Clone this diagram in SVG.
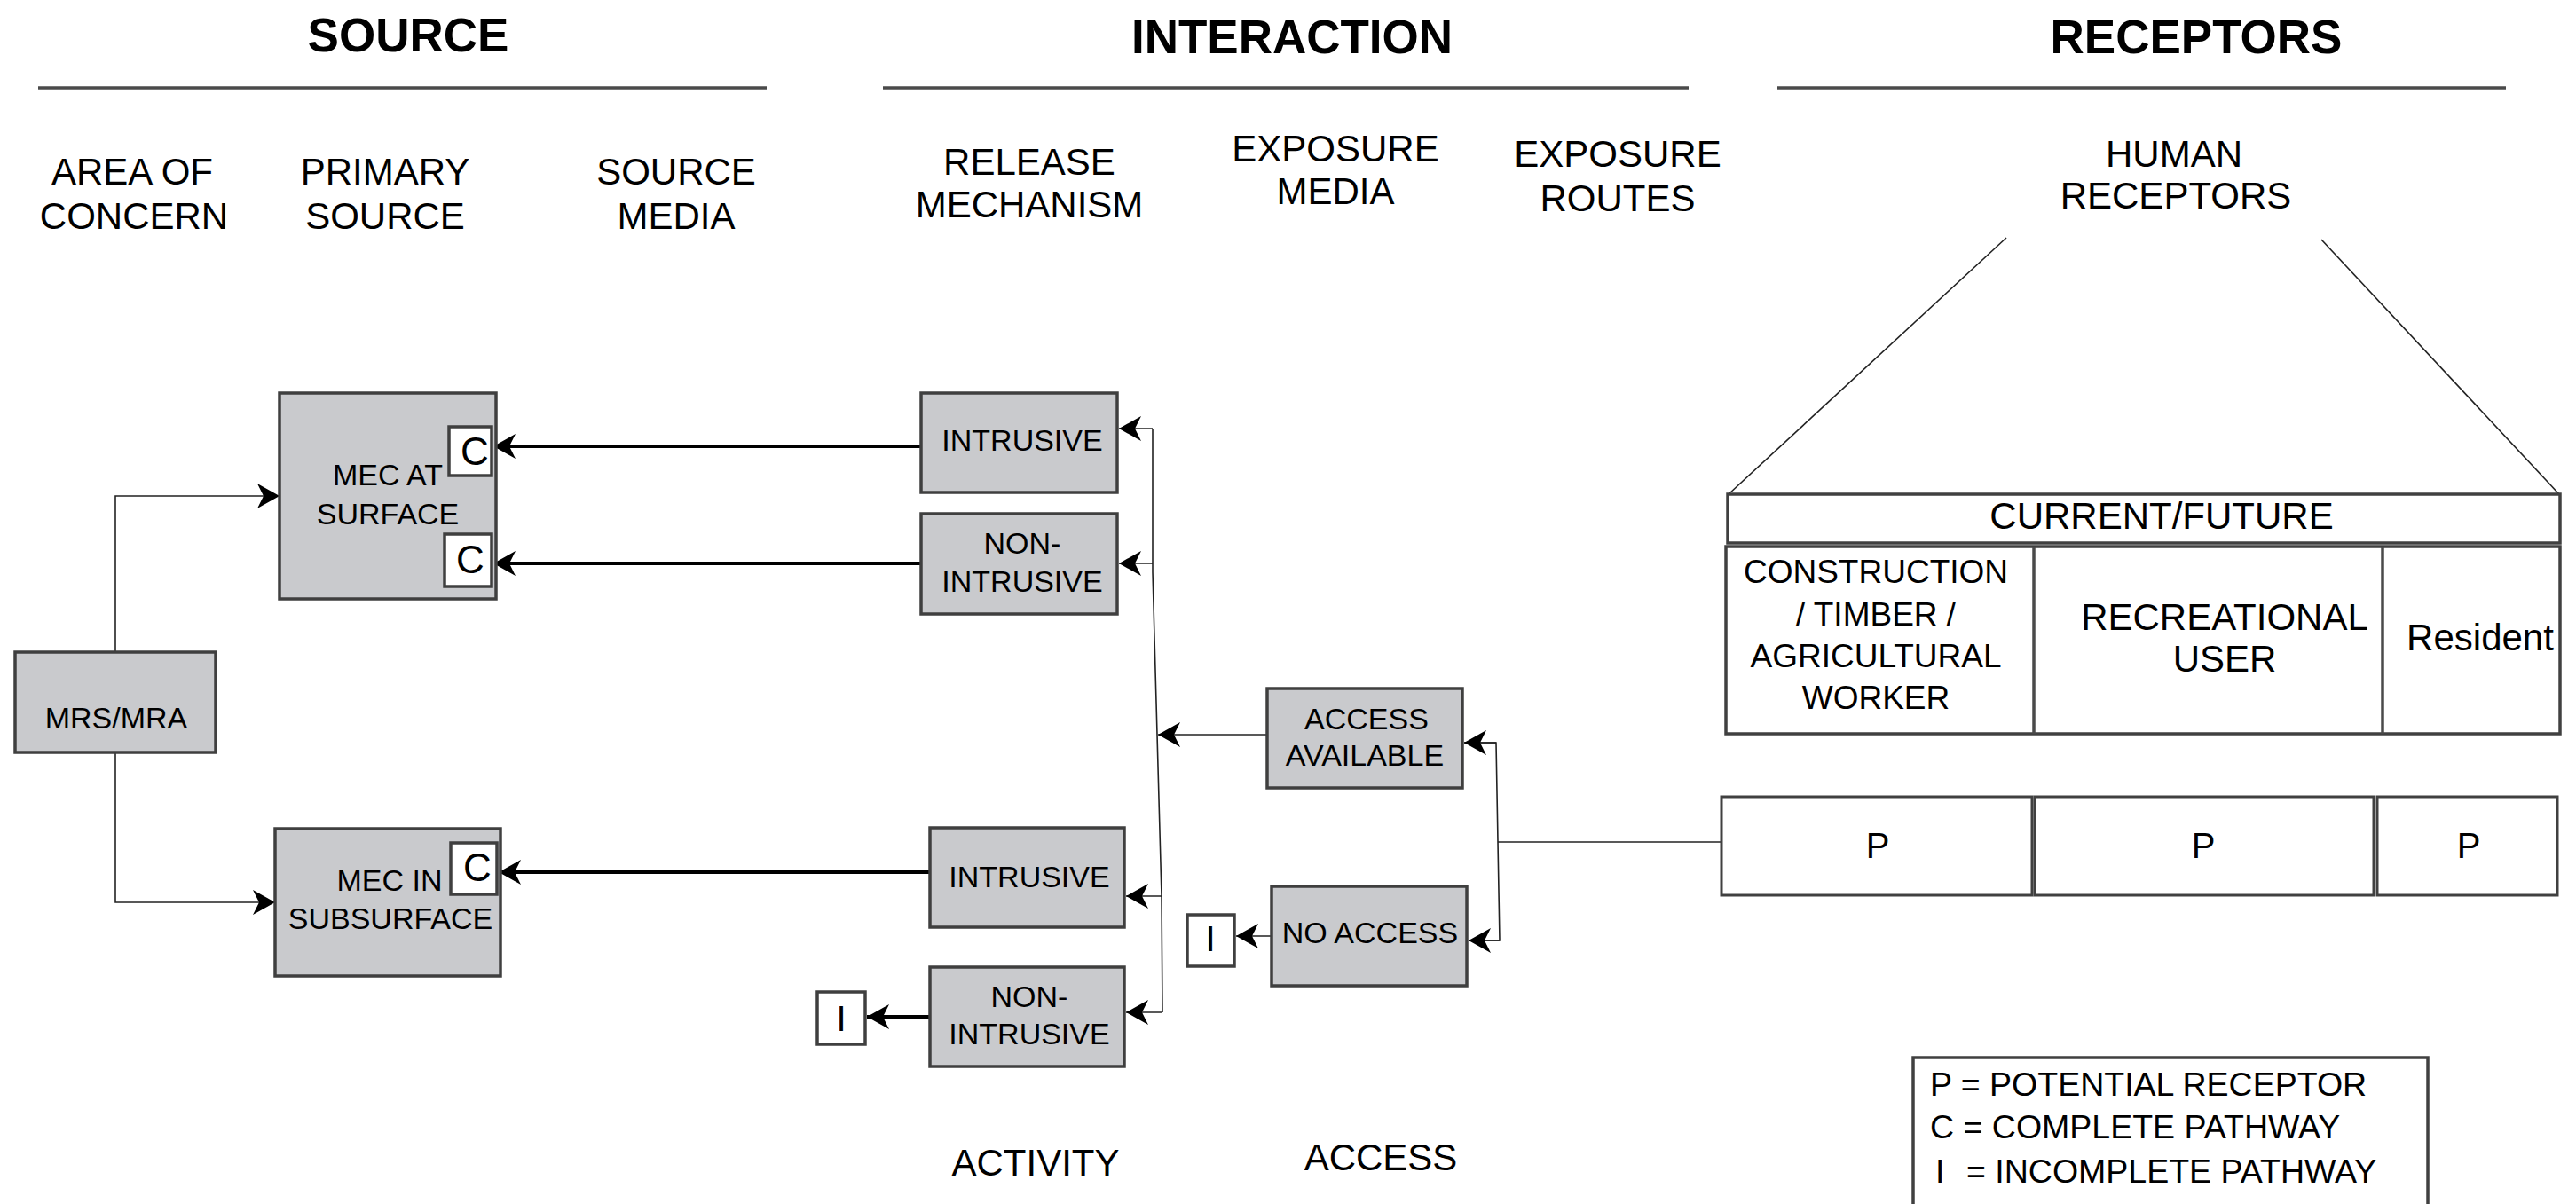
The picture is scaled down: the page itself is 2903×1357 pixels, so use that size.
<svg xmlns="http://www.w3.org/2000/svg" width="2903" height="1357" viewBox="0 0 2903 1357">
<style>
text{font-family:"Liberation Sans",Arial,sans-serif;fill:#000}
.title{font-size:53px;font-weight:bold;text-anchor:middle}
.sub{font-size:42px;text-anchor:middle}
.nt{font-size:34px;text-anchor:middle}
.lt{font-size:40px;text-anchor:middle}
.ct{font-size:44px;text-anchor:middle}
.box{fill:#c9cacd;stroke:#3f3f3f;stroke-width:3.5}
.wbox{fill:#fff;stroke:#3f3f3f;stroke-width:3.5}
.rule{stroke:#4a4a4a;stroke-width:3.5}
.thin{fill:none;stroke:#222;stroke-width:1.6}
.thick{fill:none;stroke:#000;stroke-width:4}
.tbl{fill:#fff;stroke:#404040;stroke-width:3.5}
.leg{font-size:37.5px}
</style>
<defs>
<marker id="ah" markerUnits="userSpaceOnUse" markerWidth="28" markerHeight="28" refX="25" refY="14" orient="auto"><path d="M0,0 L25,14 L0,28 L7,14 z" fill="#000"/></marker>
</defs>

<g id="headers">
<text class="title" x="460" y="58">SOURCE</text>
<text class="title" x="1456" y="60">INTERACTION</text>
<text class="title" x="2475" y="60">RECEPTORS</text>
<line class="rule" x1="43" y1="99" x2="864" y2="99"/>
<line class="rule" x1="995" y1="99" x2="1903" y2="99"/>
<line class="rule" x1="2003" y1="99" x2="2824" y2="99"/>
<text class="sub" x="149" y="208">AREA OF</text>
<text class="sub" x="151" y="258">CONCERN</text>
<text class="sub" x="434" y="208">PRIMARY</text>
<text class="sub" x="434" y="258">SOURCE</text>
<text class="sub" x="762" y="208">SOURCE</text>
<text class="sub" x="762" y="258">MEDIA</text>
<text class="sub" x="1160" y="197">RELEASE</text>
<text class="sub" x="1160" y="245">MECHANISM</text>
<text class="sub" x="1505" y="182">EXPOSURE</text>
<text class="sub" x="1505" y="230">MEDIA</text>
<text class="sub" x="1823" y="188">EXPOSURE</text>
<text class="sub" x="1823" y="238">ROUTES</text>
<text class="sub" x="2450" y="188">HUMAN</text>
<text class="sub" x="2452" y="235">RECEPTORS</text>
<text class="sub" x="1167" y="1325">ACTIVITY</text>
<text class="sub" x="1556" y="1319">ACCESS</text>
</g>

<g id="connectors">
<polyline class="thin" points="130,735 130,559 315,559" marker-end="url(#ah)"/>
<polyline class="thin" points="130,848 130,1017 310,1017" marker-end="url(#ah)"/>
<line class="thick" x1="1038" y1="503" x2="556" y2="503" marker-end="url(#ah)"/>
<line class="thick" x1="1038" y1="635" x2="556" y2="635" marker-end="url(#ah)"/>
<line class="thick" x1="1048" y1="983" x2="562" y2="983" marker-end="url(#ah)"/>
<line class="thick" x1="1048" y1="1146" x2="977" y2="1146" marker-end="url(#ah)"/>
<polyline class="thin" points="1299,483 1299,645 1309,1010 1310,1141"/>
<line class="thin" x1="1299" y1="483" x2="1261" y2="483" marker-end="url(#ah)"/>
<line class="thin" x1="1299" y1="635" x2="1261" y2="635" marker-end="url(#ah)"/>
<line class="thin" x1="1309" y1="1010" x2="1269" y2="1010" marker-end="url(#ah)"/>
<line class="thin" x1="1310" y1="1141" x2="1269" y2="1141" marker-end="url(#ah)"/>
<line class="thin" x1="1428" y1="828" x2="1305" y2="828" marker-end="url(#ah)"/>
<polyline class="thin" points="1650,837 1686,837 1690,1060 1655,1060"/>
<line class="thin" x1="1686" y1="837" x2="1650" y2="837" marker-end="url(#ah)"/>
<line class="thin" x1="1690" y1="1060" x2="1655" y2="1060" marker-end="url(#ah)"/>
<line class="thin" x1="1688" y1="949" x2="1940" y2="949"/>
<line class="thin" x1="1433" y1="1055" x2="1393" y2="1055" marker-end="url(#ah)"/>
<line class="thin" x1="2261" y1="268" x2="1948" y2="557"/>
<line class="thin" x1="2616" y1="270" x2="2884" y2="557"/>
</g>

<g id="mrs">
<rect class="box" x="17" y="735" width="226" height="113"/>
<text class="nt" x="131" y="821">MRS/MRA</text>
</g>

<g id="mec-surface">
<rect class="box" x="315" y="443" width="244" height="232"/>
<text class="nt" x="437" y="547">MEC AT</text>
<text class="nt" x="437" y="591">SURFACE</text>
</g>
<g id="c1">
<rect class="wbox" x="506" y="481" width="48" height="55"/>
<text class="ct" x="535" y="524">C</text>
</g>
<g id="c2">
<rect class="wbox" x="501" y="602" width="53" height="59"/>
<text class="ct" x="530" y="646">C</text>
</g>

<g id="mec-subsurface">
<rect class="box" x="310" y="934" width="254" height="166"/>
<text class="nt" x="439" y="1004">MEC IN</text>
<text class="nt" x="440" y="1047">SUBSURFACE</text>
</g>
<g id="c3">
<rect class="wbox" x="508" y="950" width="52" height="58"/>
<text class="ct" x="538" y="993">C</text>
</g>

<g id="intrusive-surface">
<rect class="box" x="1038" y="443" width="221" height="112"/>
<text class="nt" x="1152" y="508">INTRUSIVE</text>
</g>
<g id="nonintrusive-surface">
<rect class="box" x="1038" y="579" width="221" height="113"/>
<text class="nt" x="1152" y="624">NON-</text>
<text class="nt" x="1152" y="667">INTRUSIVE</text>
</g>
<g id="intrusive-subsurface">
<rect class="box" x="1048" y="933" width="219" height="112"/>
<text class="nt" x="1160" y="1000">INTRUSIVE</text>
</g>
<g id="nonintrusive-subsurface">
<rect class="box" x="1048" y="1090" width="219" height="112"/>
<text class="nt" x="1160" y="1135">NON-</text>
<text class="nt" x="1160" y="1177">INTRUSIVE</text>
</g>
<g id="i-activity">
<rect class="wbox" x="921" y="1118" width="54" height="59"/>
<text class="lt" x="948" y="1162">I</text>
</g>

<g id="access-available">
<rect class="box" x="1428" y="776" width="220" height="112"/>
<text class="nt" x="1540" y="822">ACCESS</text>
<text class="nt" x="1538" y="863">AVAILABLE</text>
</g>
<g id="no-access">
<rect class="box" x="1433" y="999" width="220" height="112"/>
<text class="nt" x="1544" y="1063">NO ACCESS</text>
</g>
<g id="i-access">
<rect class="wbox" x="1338" y="1031" width="53" height="58"/>
<text class="lt" x="1364" y="1072">I</text>
</g>

<g id="receptor-table">
<rect class="tbl" x="1947" y="557" width="938" height="55"/>
<text class="sub" x="2436" y="596">CURRENT/FUTURE</text>
<rect class="tbl" x="1945" y="616" width="940" height="211"/>
<line class="rule" x1="2292" y1="616" x2="2292" y2="827"/>
<line class="rule" x1="2685" y1="616" x2="2685" y2="827"/>
<text x="2114" y="657" style="font-size:37px;text-anchor:middle">CONSTRUCTION</text>
<text x="2114" y="705" style="font-size:37px;text-anchor:middle">/ TIMBER /</text>
<text x="2114" y="752" style="font-size:37px;text-anchor:middle">AGRICULTURAL</text>
<text x="2114" y="799" style="font-size:37px;text-anchor:middle">WORKER</text>
<text class="sub" x="2507" y="710">RECREATIONAL</text>
<text class="sub" x="2507" y="757">USER</text>
<text class="sub" x="2795" y="733">Resident</text>
</g>

<g id="p-row">
<rect class="tbl" x="1940" y="898" width="350" height="111" style="stroke-width:3"/>
<rect class="tbl" x="2293" y="898" width="382" height="111" style="stroke-width:3"/>
<rect class="tbl" x="2679" y="898" width="203" height="111" style="stroke-width:3"/>
<text class="lt" x="2116" y="967">P</text>
<text class="lt" x="2483" y="967">P</text>
<text class="lt" x="2782" y="967">P</text>
</g>

<g id="legend">
<rect class="tbl" x="2156" y="1192" width="580" height="200"/>
<text class="leg" x="2175" y="1235">P = POTENTIAL RECEPTOR</text>
<text class="leg" x="2175" y="1283">C = COMPLETE PATHWAY</text>
<text class="leg" x="2181" y="1333">I<tspan x="2216">= INCOMPLETE PATHWAY</tspan></text>
</g>
</svg>
